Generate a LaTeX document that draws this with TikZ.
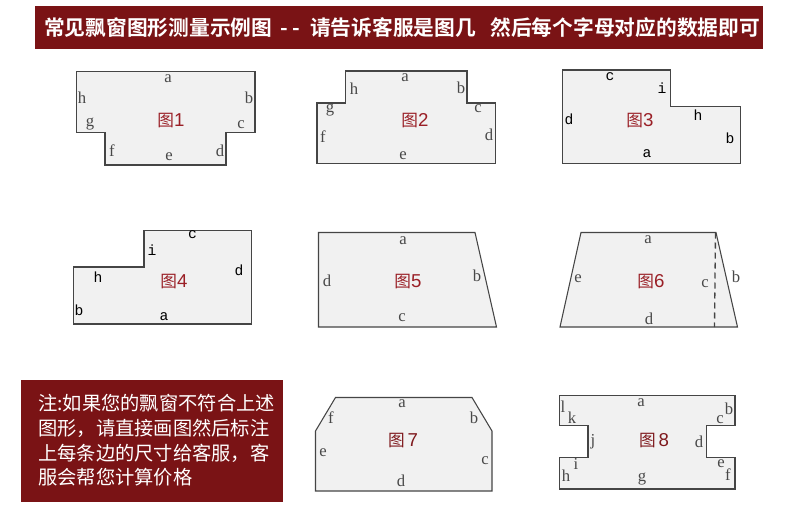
\documentclass[tikz,border=0pt]{standalone}
\usepackage{fontspec}
\setmainfont{Liberation Serif}
\newfontfamily\cjk{Noto Sans CJK SC}
\newfontfamily\cjkbold{Noto Sans CJK SC Bold}
\newfontfamily\digitfont{Liberation Sans}
\newfontfamily\monofont{Liberation Mono}
\definecolor{darkred}{HTML}{7A1315}
\definecolor{shapegray}{HTML}{F1F1F1}
\definecolor{linegray}{HTML}{454545}
\definecolor{lettergray}{HTML}{484848}
\definecolor{titlered}{HTML}{9A1F26}
\definecolor{titledark}{HTML}{7F1A1E}
\newcommand{\fignum}[1]{{\fontsize{14}{14}\digitfont #1}}
\begin{document}
\begin{tikzpicture}[x=0.75pt,y=-0.75pt,
		window/.style={draw=linegray,fill=shapegray,line width=0.8pt,line join=miter},
		banner/.style={fill=darkred,draw=none},
		letter/.style={inner sep=0pt,text=lettergray,font=\fontsize{12.5}{12.5}\selectfont},
		monoletter/.style={inner sep=0pt,text=black,font=\fontsize{11}{11}\monofont},
		figname/.style={inner sep=0pt,text=titlered,font=\fontsize{12.5}{12.5}\cjk}
		]
	\useasboundingbox (0,0) rectangle (790,511);
	\fill [white] (0,0) rectangle (790,511);

	% header
	\fill [banner] (35,6) rectangle (763,49);
	\node [inner sep=0pt,anchor=west,text=white,font=\fontsize{15.55}{16}\cjkbold] (header) at (44,28)
		{常见飘窗图形测量示例图\hspace{2.25pt} -\hspace{3.75pt}- \hspace{3.75pt}请告诉客服是图几\hspace{0.7em}然后每个字母对应的数据即可};

	% figure 1
	\draw [window] (76.5,71.5) -- (255,71.5) -- (255,132.5) -- (226,132.5) -- (226,165) -- (105,165) -- (105,132.5) -- (76.5,132.5) -- cycle;
	\node [letter] (a1) at (168,79) {a};
	\node [letter] (b1) at (249,98) {b};
	\node [letter] (c1) at (241,125) {c};
	\node [letter] (d1) at (220,151) {d};
	\node [letter] (e1) at (169,157) {e};
	\node [letter] (f1) at (112,151) {f};
	\node [letter] (g1) at (90,124) {g};
	\node [letter] (h1) at (82,98) {h};
	\node [figname] (fig1) at (171,121) {图\fignum{1}};

	% figure 2
	\draw [window] (345.5,71) -- (467,71) -- (467,103) -- (495.5,103) -- (495.5,163.5) -- (317,163.5) -- (317,103) -- (345.5,103) -- cycle;
	\node [letter] (a2) at (405,78) {a};
	\node [letter] (b2) at (461,88) {b};
	\node [letter] (c2) at (478,109) {c};
	\node [letter] (d2) at (489,134.5) {d};
	\node [letter] (e2) at (403,156) {e};
	\node [letter] (f2) at (323,137) {f};
	\node [letter] (g2) at (330,110) {g};
	\node [letter] (h2) at (354,88.5) {h};
	\node [figname] (fig2) at (415,121) {图\fignum{2}};

	% figure 3
	\draw [window] (562.5,70) -- (670.5,70) -- (670.5,106.5) -- (740.5,106.5) -- (740.5,163.5) -- (562.5,163.5) -- cycle;
	\node [monoletter] (c3) at (610,77) {c};
	\node [monoletter] (i3) at (662,88.5) {i};
	\node [monoletter] (h3) at (698,115) {h};
	\node [monoletter] (b3) at (730,138) {b};
	\node [monoletter] (a3) at (647,154) {a};
	\node [monoletter] (d3) at (569,119) {d};
	\node [figname] (fig3) at (640,121) {图\fignum{3}};

	% figure 4
	\draw [window] (144,230.5) -- (251.5,230.5) -- (251.5,324) -- (73.5,324) -- (73.5,267) -- (144,267) -- cycle;
	\node [monoletter] (c4) at (192.5,235) {c};
	\node [monoletter] (i4) at (152,250) {i};
	\node [monoletter] (h4) at (98,277) {h};
	\node [monoletter] (d4) at (239,270) {d};
	\node [monoletter] (b4) at (79,310) {b};
	\node [monoletter] (a4) at (164,317) {a};
	\node [figname] (fig4) at (174,282) {图\fignum{4}};

	% figure 5
	\draw [window] (318.5,232.5) -- (475,232.5) -- (496.5,327) -- (318.5,327) -- cycle;
	\node [letter] (a5) at (403,241) {a};
	\node [letter] (b5) at (477,276) {b};
	\node [letter] (c5) at (402,318) {c};
	\node [letter] (d5) at (327,281) {d};
	\node [figname] (fig5) at (408,282) {图\fignum{5}};

	% figure 6
	\draw [window] (581,232.5) -- (716,232.5) -- (737.5,327) -- (560,327) -- cycle;
	\draw [draw=linegray,line width=1pt,dash pattern=on 4.5pt off 3pt] (715.5,232.5) -- (714.5,327);
	\node [letter] (a6) at (648,240) {a};
	\node [letter] (b6) at (736,277) {b};
	\node [letter] (c6) at (705,284) {c};
	\node [letter] (d6) at (649,319) {d};
	\node [letter] (e6) at (578,279) {e};
	\node [figname] (fig6) at (651,282) {图\fignum{6}};

	% note
	\fill [banner] (21,380) rectangle (283,502);
	\node [inner sep=0pt,anchor=west,align=left,text=white,font=\fontsize{14.45}{18.5}\cjk] (note) at (38,440.5)
		{注:如果您的飘窗不符合上述\\图形，请直接画图然后标注\\上每条边的尺寸给客服，客\\服会帮您计算价格};

	% figure 7
	\draw [window] (335.5,397.5) -- (472,397.5) -- (492,431) -- (492,491) -- (315.5,491) -- (315.5,431) -- cycle;
	\node [letter] (a7) at (402,404) {a};
	\node [letter] (b7) at (474,418) {b};
	\node [letter] (c7) at (485,461) {c};
	\node [letter] (d7) at (401,481) {d};
	\node [letter] (e7) at (323,453) {e};
	\node [letter] (f7) at (331,418) {f};
	\node [figname,text=titledark] (fig7) at (403,441) {图\,\fignum{7}};

	% figure 8
	\draw [window] (559.5,395.5) -- (735,395.5) -- (735,425.5) -- (706.5,425.5) -- (706.5,457.5) -- (735,457.5) -- (735,489) -- (559.5,489) -- (559.5,457.5) -- (588,457.5) -- (588,425.5) -- (559.5,425.5) -- cycle;
	\node [letter] (a8) at (641,403) {a};
	\node [letter] (b8) at (729,409) {b};
	\node [letter] (c8) at (720,420) {c};
	\node [letter] (d8) at (699,442) {d};
	\node [letter] (e8) at (721,464) {e};
	\node [letter] (f8) at (728,475) {f};
	\node [letter] (g8) at (642,479) {g};
	\node [letter] (h8) at (566,476) {h};
	\node [letter] (i8) at (576,464) {i};
	\node [letter] (j8) at (593,442) {j};
	\node [letter] (k8) at (572,418) {k};
	\node [letter] (l8) at (563,407) {l};
	\node [figname,text=titledark] (fig8) at (654,441) {图\,\fignum{8}};
\end{tikzpicture}
\end{document}
